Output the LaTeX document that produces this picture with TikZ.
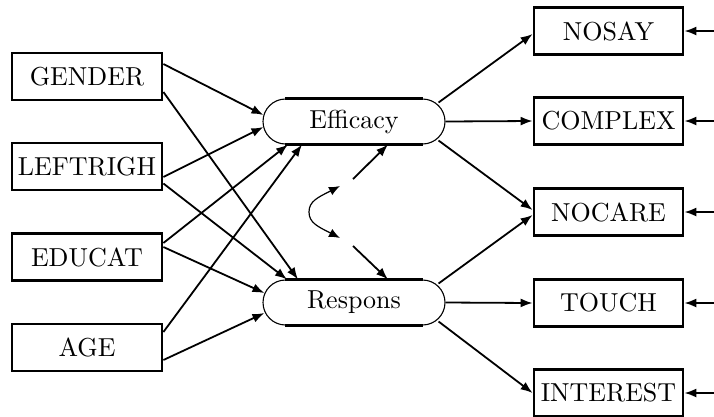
\documentclass[tikz,border=0pt]{standalone}
\usepackage{fontspec}
\setmainfont{lmroman10-regular.otf}
\usetikzlibrary{arrows.meta,bending}
\begin{document}
\begin{tikzpicture}[x=1pt,y=-1pt,
  font=\fontsize{26}{31}\selectfont,
  obs/.style={draw,line width=2.8pt,minimum width=150pt,minimum height=47pt,inner sep=0pt},
  lat/.style={draw,line width=1.1pt,rounded corners=22.5pt,minimum width=182pt,minimum height=45pt,inner sep=0pt},
  thickedge/.style={line width=2.8pt},
  pathar/.style={line width=1.8pt,-{Latex[length=12pt,width=9pt]}},
  covar/.style={line width=1.2pt,{Latex[length=11pt,width=9pt,flex]}-{Latex[length=11pt,width=9pt,flex]}},
  ]
\useasboundingbox (0,0) rectangle (714,416);
% observed exogenous
\node[obs] (G) at (87,76.5) {GENDER};
\node[obs] (L) at (87,166.5) {LEFTRIGH};
\node[obs] (Ed) at (87,257) {EDUCAT};
\node[obs] (A) at (87,347.5) {AGE};
% latent
\node[lat] (E) at (354,121.5) {Efficacy};
\node[lat] (R) at (354,302.5) {Respons};
\foreach \n in {E,R}{
  \draw[thickedge] ([xshift=22.5pt]\n.north west) -- ([xshift=-22.5pt]\n.north east);
  \draw[thickedge] ([xshift=22.5pt]\n.south west) -- ([xshift=-22.5pt]\n.south east);
}
% indicators
\node[obs,minimum width=149pt] (NS) at (608.5,31) {NOSAY};
\node[obs,minimum width=149pt] (C) at (608.5,121) {COMPLEX};
\node[obs,minimum width=149pt] (NC) at (608.5,212) {NOCARE};
\node[obs,minimum width=149pt] (T) at (608.5,303) {TOUCH};
\node[obs,minimum width=149pt] (I) at (608.5,393) {INTEREST};
% error term ends
\coordinate (eNS) at (714,31);
\coordinate (eC) at (714,121);
\coordinate (eNC) at (714,212);
\coordinate (eT) at (714,303);
\coordinate (eI) at (714,393);
% disturbances
\coordinate (z1) at (353,179);
\coordinate (z2) at (353,246);
\coordinate (c1) at (340,186);
\coordinate (c2) at (340,238);
% paths from exogenous
\draw[pathar] ([yshift=12.5pt]G.east) -- ([xshift=1pt,yshift=6.5pt]E.west);
\draw[pathar] ([yshift=-15.5pt]G.east) -- ([xshift=-56pt]R.north);
\draw[pathar] ([yshift=-10.5pt]L.east) -- ([xshift=1pt,yshift=-5.5pt]E.west);
\draw[pathar] ([yshift=-17pt]L.east) -- ([xshift=-67pt]R.north);
\draw[pathar] ([yshift=14pt]Ed.east) -- ([xshift=-66pt]E.south);
\draw[pathar] ([yshift=10pt]Ed.east) -- ([xshift=2pt,yshift=9.5pt]R.west);
\draw[pathar] ([yshift=15.5pt]A.east) -- ([xshift=-52pt]E.south);
\draw[pathar] ([yshift=-12.5pt]A.east) -- ([xshift=2pt,yshift=-10.5pt]R.west);
% loadings
\draw[pathar] ([xshift=-7pt,yshift=19pt]E.east) -- ([yshift=-3pt]NS.west);
\draw[pathar] (E.east) -- (C.west);
\draw[pathar] ([xshift=-7pt,yshift=-19pt]E.east) -- ([yshift=2pt]NC.west);
\draw[pathar] ([xshift=-7pt,yshift=19pt]R.east) -- ([yshift=-3pt]NC.west);
\draw[pathar] (R.east) -- (T.west);
\draw[pathar] ([xshift=-7pt,yshift=-19pt]R.east) -- (I.west);
% errors
\draw[pathar] (eNS) -- (NS.east);
\draw[pathar] (eC) -- (C.east);
\draw[pathar] (eNC) -- (NC.east);
\draw[pathar] (eT) -- (T.east);
\draw[pathar] (eI) -- (I.east);
% disturbances
\draw[pathar] (z1) -- ([xshift=34pt]E.south);
\draw[pathar] (z2) -- ([xshift=34pt]R.north);
\draw[covar] (c1) .. controls (322,196) and (309,199) .. (309,212) .. controls (309,225) and (322,228) .. (c2);
\end{tikzpicture}
\end{document}
